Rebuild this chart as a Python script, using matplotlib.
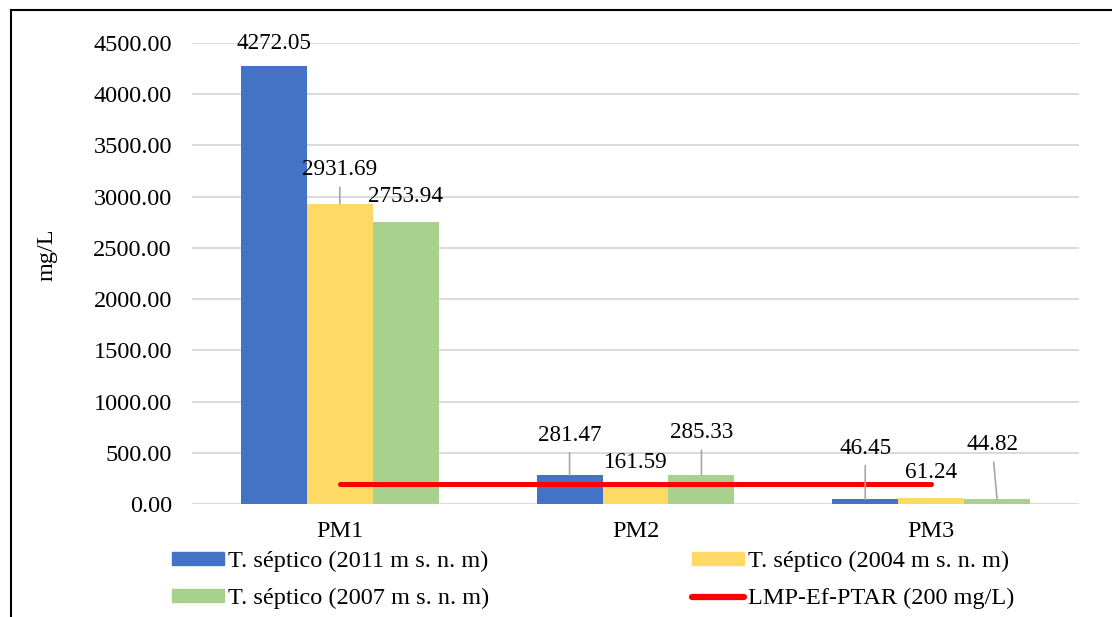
import numpy as np
import matplotlib.pyplot as plt
from matplotlib.lines import Line2D
from matplotlib.patches import Patch

plt.rcParams['font.family'] = ['Liberation Serif', 'DejaVu Serif']

# === DATOS ===
categorias = ["PM1", "PM2", "PM3"]
series = ["T. séptico (2011 m s. n. m)", "T. séptico (2004 m s. n. m)", "T. séptico (2007 m s. n. m)"]
t2011 = [4272.05, 281.47, 46.45]
t2004 = [2931.69, 161.59, 61.24]
t2007 = [2753.94, 285.33, 44.82]
lmp = [200, 200, 200]
lmp_label = "LMP-Ef-PTAR (200 mg/L)"
yticks = np.arange(0, 4501, 500)

colores = ["#4472C4", "#FFD966", "#A9D18E"]

# posicion de etiquetas (dx en categorias, dy en mg/L, linea guia)
etiquetas = [
    [(0, 220, False), (0, 390, True), (0, 500, True)],
    [(0, 330, True), (0, 240, False), (0, 245, False)],
    [(0, 250, False), (0, 410, True), (-0.017, 535, True)],
]

# === FIGURA ===
fig = plt.figure(figsize=(11.12, 6.17), dpi=100)
ax = fig.add_axes([192 / 1112, 1 - 504 / 617, 887 / 1112, 461 / 617])

x = np.arange(len(categorias))
ancho = 0.223
for i, (vals, col) in enumerate(zip([t2011, t2004, t2007], colores)):
    pos = x + (i - 1) * ancho
    ax.bar(pos, vals, width=ancho, color=col, zorder=2)
    for j, v in enumerate(vals):
        dx, dy, guia = etiquetas[i][j]
        kw = {}
        if guia:
            kw["arrowprops"] = dict(arrowstyle="-", color="#a6a6a6", lw=1.2, shrinkA=3, shrinkB=0)
        ax.annotate(f"{v:.2f}", xy=(pos[j], v), xytext=(pos[j] + dx, v + dy),
                    ha="center", va="center", fontsize=16.7, zorder=4, **kw)

ax.plot(x, lmp, color="red", lw=3.6, solid_capstyle="round", zorder=3)

ax.set_xlim(-0.5, 2.5)
ax.set_ylim(0, 4500)
ax.set_yticks(yticks)
ax.set_yticklabels([f"{t:.2f}" for t in yticks])
ax.set_xticks(x)
ax.set_xticklabels(categorias)
ax.tick_params(axis="both", length=0, labelsize=17.5)
ax.tick_params(axis="y", pad=14.4)
ax.tick_params(axis="x", pad=12)
ax.grid(axis="y", color="#d9d9d9", lw=1.4, zorder=0)
ax.set_axisbelow(True)
for s in ax.spines.values():
    s.set_visible(False)

ax.set_ylabel("mg/L", fontsize=17.5)
ax.yaxis.set_label_coords(-0.152, 0.54)

# leyenda
handles = [Patch(color=colores[0]), Patch(color=colores[2]),
           Patch(color=colores[1]), Line2D([0], [0], color="red", lw=4.5, solid_capstyle="round")]
labels = [series[0], series[2], series[1], lmp_label]
fig.legend(handles, labels, ncol=2, loc="upper left", bbox_to_anchor=(172 / 1112, 1 - 551 / 617),
           frameon=False, fontsize=17.5, handlelength=2.14, handleheight=0.45, handletextpad=0.16,
           columnspacing=8.35, labelspacing=0.65, borderpad=0, borderaxespad=0)

# marco
fig.add_artist(Line2D([11 / 1112, 1], [1 - 10 / 617] * 2, transform=fig.transFigure, color="black", lw=1.5))
fig.add_artist(Line2D([11 / 1112] * 2, [0, 1 - 10 / 617], transform=fig.transFigure, color="black", lw=1.5))

fig.savefig("out.png", dpi=100)
